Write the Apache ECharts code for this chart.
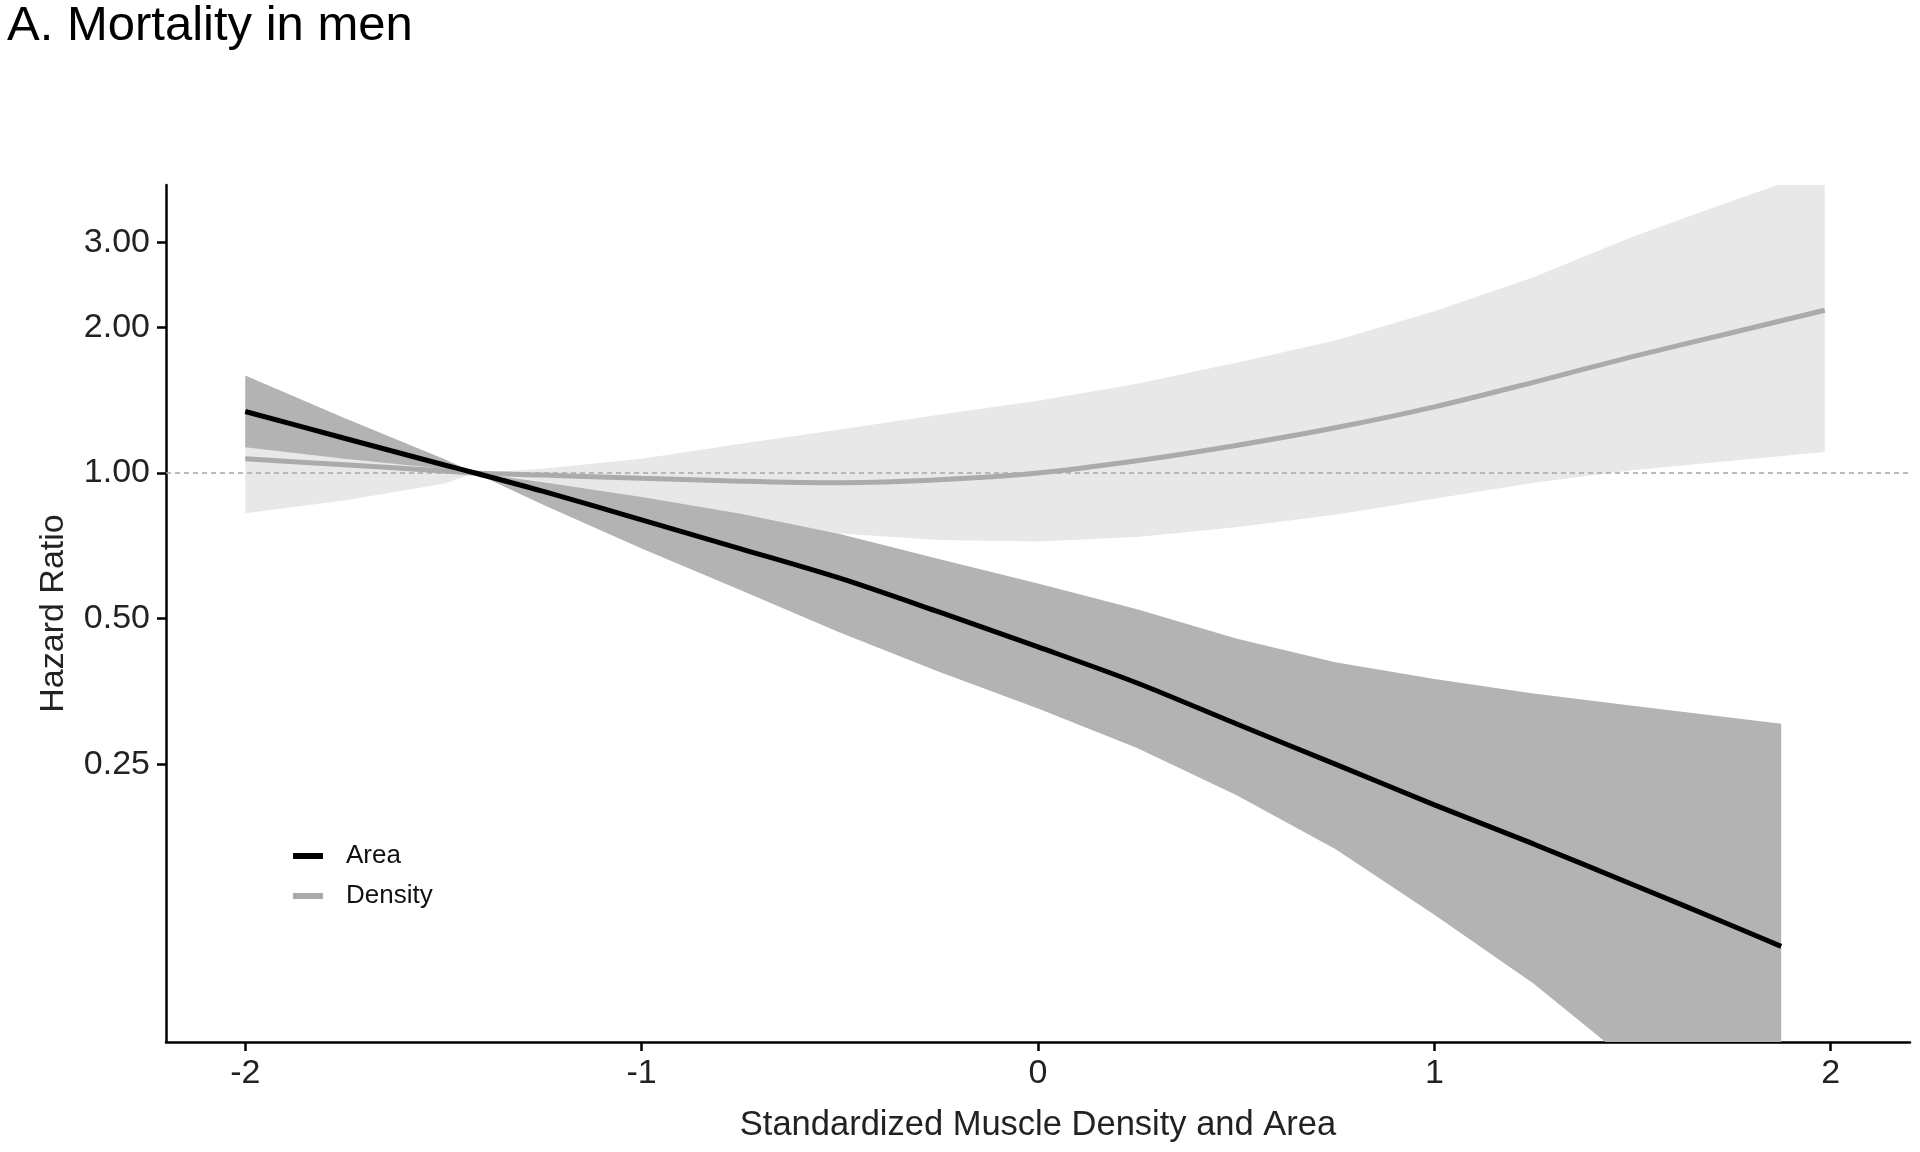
<!DOCTYPE html>
<html><head><meta charset="utf-8">
<script src="https://cdn.jsdelivr.net/npm/echarts@6/dist/echarts.min.js"></script>
<style>html,body{margin:0;padding:0;background:#fff}#c{width:1920px;height:1152px}</style>
</head><body><div id="c"></div>
<script>
// ---- data (hazard ratios) ----
const xTickValues = [-2, -1, 0, 1, 2];
const yTickValues = [0.25, 0.5, 1, 2, 3];

const areaX     = [-2, -1.75, -1.5, -1.42, -1.25, -1, -0.75, -0.5, -0.25, 0, 0.25, 0.5, 0.75, 1, 1.25, 1.5, 1.75, 1.875];
const areaHR    = [1.34, 1.18, 1.04, 1.00, 0.917, 0.80, 0.697, 0.606, 0.516, 0.437, 0.368, 0.303, 0.250, 0.206, 0.171, 0.141, 0.116, 0.105];
const areaUpper = [1.59, 1.30, 1.07, 1.00, 0.958, 0.892, 0.824, 0.748, 0.664, 0.591, 0.523, 0.455, 0.406, 0.375, 0.350, 0.330, 0.312, 0.303];
const areaLower = [1.13, 1.07, 1.02, 1.00, 0.861, 0.698, 0.572, 0.468, 0.388, 0.326, 0.270, 0.216, 0.167, 0.122, 0.088, 0.060, 0.043, 0.0365];

const densityX     = [-2, -1.75, -1.5, -1.42, -1.25, -1, -0.75, -0.5, -0.25, 0, 0.25, 0.5, 0.75, 1, 1.25, 1.5, 1.75, 1.985];
const densityHR    = [1.07, 1.04, 1.01, 1.00, 0.99, 0.975, 0.962, 0.955, 0.968, 1.00, 1.06, 1.14, 1.24, 1.37, 1.54, 1.74, 1.95, 2.17];
const densityUpper = [1.38, 1.20, 1.05, 1.00, 1.02, 1.07, 1.15, 1.23, 1.32, 1.41, 1.53, 1.69, 1.88, 2.16, 2.54, 3.08, 3.65, 4.26];
const densityLower = [0.826, 0.877, 0.95, 1.00, 0.96, 0.89, 0.81, 0.75, 0.727, 0.722, 0.737, 0.772, 0.820, 0.885, 0.955, 1.013, 1.06, 1.105];

const referenceHR = 1;

// ---- helpers building what the library needs ----
const pairs = (xs, ys) => xs.map((x, i) => [x, ys[i]]);

const FONT = '"Liberation Sans", Arial, Helvetica, sans-serif';
const chart = echarts.init(document.getElementById('c'), null, {renderer: 'canvas'});

// confidence ribbon: one polygon, vertices placed through the axes (api.coord), clipped to the grid
function ribbon(name, xs, lo, hi, color, z) {
  return {
    type: 'custom', name: name, z: z, silent: true, animation: false, clip: true,
    data: xs.map((x, i) => [x, lo[i], hi[i]]),
    encode: {x: 0, y: [1, 2]},
    renderItem: function (params, api) {
      if (params.dataIndex !== 0) return null;
      const pts = [];
      for (let i = 0; i < xs.length; i++) pts.push(api.coord([xs[i], hi[i]]));
      for (let i = xs.length - 1; i >= 0; i--) pts.push(api.coord([xs[i], lo[i]]));
      const cs = params.coordSys;
      return {
        type: 'polygon', shape: {points: pts}, style: {fill: color, stroke: null},
        clipPath: {type: 'rect', shape: {x: cs.x, y: cs.y, width: cs.width, height: cs.height}}
      };
    }
  };
}

chart.setOption({
  backgroundColor: '#fff',
  animation: false,
  title: {
    text: 'A. Mortality in men', left: 2, top: -3,
    textStyle: {fontFamily: FONT, fontSize: 49, fontWeight: 'normal', color: '#000'}
  },
  legend: {
    orient: 'vertical', left: 288, top: 838, itemWidth: 30, itemHeight: 6, itemGap: 14,
    data: [{name: 'Area', icon: 'rect'}, {name: 'Density', icon: 'rect'}],
    textStyle: {fontFamily: FONT, fontSize: 26, color: '#111', padding: [0, 0, 0, 18]},
    selectedMode: false
  },
  grid: {left: 166, right: 10, top: 185, bottom: 110, containLabel: false, outerBoundsMode: 'none'},
  xAxis: {
    type: 'value', min: -2.2, max: 2.2,
    splitLine: {show: false},
    axisLine: {onZero: false, lineStyle: {color: '#000', width: 2.5}},
    axisTick: {length: 9, lineStyle: {color: '#000', width: 2.5}, customValues: xTickValues},
    axisLabel: {customValues: xTickValues, fontFamily: FONT, fontSize: 34, color: '#222', margin: 15,
      formatter: v => String(v)},
    name: 'Standardized Muscle Density and Area', nameLocation: 'middle', nameGap: 66,
    nameTextStyle: {fontFamily: FONT, fontSize: 34.5, color: '#222'}
  },
  yAxis: {
    type: 'log', logBase: 1.5, min: 0.0666, max: 3.94,
    splitLine: {show: false},
    axisLine: {onZero: false, lineStyle: {color: '#000', width: 2.5}},
    axisTick: {length: 9, lineStyle: {color: '#000', width: 2.5}, customValues: yTickValues},
    axisLabel: {customValues: yTickValues, fontFamily: FONT, fontSize: 34, color: '#222', margin: 16,
      formatter: v => Number(v).toFixed(2)},
    name: 'Hazard Ratio', nameLocation: 'middle', nameGap: 95, nameRotate: 90,
    nameTextStyle: {fontFamily: FONT, fontSize: 34, color: '#222'}
  },
  series: [
    ribbon('Density CI', densityX, densityLower, densityUpper, '#e8e8e8', 2),
    ribbon('Area CI', areaX, areaLower, areaUpper, '#b3b3b3', 3),
    {type: 'line', name: 'ref', data: [], z: 4, silent: true,
      markLine: {silent: true, symbol: 'none', animation: false, label: {show: false},
        lineStyle: {color: '#a6a6a6', width: 1.5, type: [5, 4]},
        data: [{yAxis: referenceHR}]}},
    {type: 'line', name: 'Density', z: 5, symbol: 'none', smooth: 0.3, animation: false,
      color: '#ababab', lineStyle: {color: '#ababab', width: 5}, data: pairs(densityX, densityHR)},
    {type: 'line', name: 'Area', z: 6, symbol: 'none', smooth: 0.3, animation: false,
      color: '#000', lineStyle: {color: '#000', width: 5}, data: pairs(areaX, areaHR)}
  ]
});
</script>
</body></html>
